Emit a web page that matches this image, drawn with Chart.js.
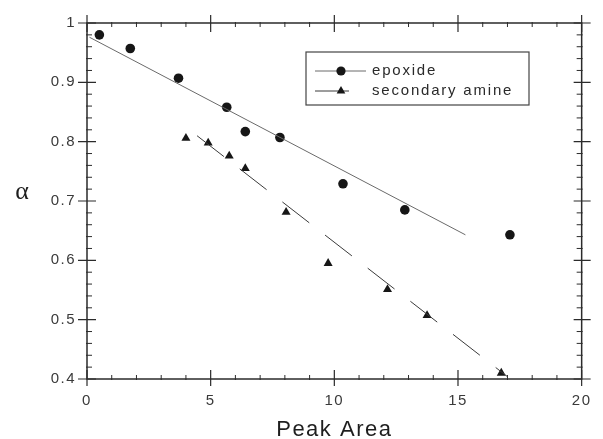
<!DOCTYPE html>
<html><head><meta charset="utf-8">
<script src="https://cdn.jsdelivr.net/npm/chart.js@4.4.0/dist/chart.umd.min.js"></script>
<style>html,body{margin:0;padding:0;background:#fff;}</style>
</head><body>
<canvas id="c" width="603" height="439"></canvas>
<script>
// ---- data ----
const epoxideX = [0.5, 1.75, 3.7, 5.65, 6.4, 7.8, 10.35, 12.85, 17.1];
const epoxideY = [0.980, 0.957, 0.907, 0.858, 0.817, 0.807, 0.729, 0.685, 0.643];
const amineX = [4.0, 4.9, 5.75, 6.4, 8.05, 9.75, 12.15, 13.75, 16.75];
const amineY = [0.806, 0.798, 0.776, 0.755, 0.681, 0.595, 0.551, 0.507, 0.410];
const epoxideFitX = [0.1, 15.3];
const epoxideFitY = [0.976, 0.643];
const amineFitX = [4.45, 17.0];
const amineFitY = [0.810, 0.404];
const seriesLabels = ['epoxide', 'secondary amine'];
const xMajorTicks = [0, 5, 10, 15, 20];
const xTickLabels = ['0', '5', '10', '15', '20'];
const yMajorTicks = [0.4, 0.5, 0.6, 0.7, 0.8, 0.9, 1];
const yTickLabels = ['0.4', '0.5', '0.6', '0.7', '0.8', '0.9', '1'];
const xMinorStep = 1;
const yMinorStep = 0.02;
const xTitle = 'Peak Area';
const yTitle = 'α';

const toPts = (xs, ys) => xs.map((v, i) => ({x: v, y: ys[i]}));
const INK = '#161616';
const FONT = "'Liberation Sans', Arial, sans-serif";

const framePlugin = {
  id: 'frame',
  beforeDraw(chart) { chart.ctx.letterSpacing = '1.5px'; },
  beforeDatasetsDraw(chart) {
    const {ctx, chartArea: a, scales: {x, y}} = chart;
    ctx.save();
    ctx.strokeStyle = '#2b2b2b';
    ctx.lineWidth = 1.5;
    ctx.strokeRect(a.left, a.top, a.right - a.left, a.bottom - a.top);
    ctx.lineWidth = 1.2;
    ctx.beginPath();
    xMajorTicks.forEach(v => {
      const p = x.getPixelForValue(v);
      ctx.moveTo(p, a.bottom - 9); ctx.lineTo(p, a.bottom + 7);
      ctx.moveTo(p, a.top - 8); ctx.lineTo(p, a.top + 9);
    });
    yMajorTicks.forEach(v => {
      const p = y.getPixelForValue(v);
      ctx.moveTo(a.left - 9, p); ctx.lineTo(a.left + 9, p);
      ctx.moveTo(a.right - 8, p); ctx.lineTo(a.right + 9, p);
    });
    ctx.stroke();
    ctx.lineWidth = 1;
    ctx.beginPath();
    for (let v = x.min + xMinorStep; v < x.max - 1e-9; v += xMinorStep) {
      if (xMajorTicks.some(m => Math.abs(m - v) < 1e-6)) continue;
      const p = x.getPixelForValue(v);
      ctx.moveTo(p, a.bottom - 4); ctx.lineTo(p, a.bottom + 1);
      ctx.moveTo(p, a.top - 1); ctx.lineTo(p, a.top + 4);
    }
    for (let v = y.min + yMinorStep; v < y.max - 1e-9; v += yMinorStep) {
      if (yMajorTicks.some(m => Math.abs(m - v) < 1e-6)) continue;
      const p = y.getPixelForValue(v);
      ctx.moveTo(a.left - 1, p); ctx.lineTo(a.left + 5, p);
      ctx.moveTo(a.right - 5, p); ctx.lineTo(a.right + 1, p);
    }
    ctx.stroke();
    ctx.restore();
  },
  afterDraw(chart) {
    const {ctx, chartArea: a} = chart;
    ctx.save();
    // axis titles
    ctx.fillStyle = '#1e1e1e';
    ctx.letterSpacing = '1.5px';
    ctx.font = "22px " + FONT;
    ctx.textAlign = 'center';
    ctx.textBaseline = 'alphabetic';
    ctx.fillText(xTitle, (a.left + a.right) / 2, 436);
    ctx.letterSpacing = '0px';
    ctx.font = "26px 'Liberation Serif', serif";
    ctx.fillText(yTitle, 22, 199);
    // legend
    const bx = 306, by = 52, bw = 223, bh = 53;
    ctx.fillStyle = '#fff';
    ctx.fillRect(bx, by, bw, bh);
    ctx.strokeStyle = '#444';
    ctx.lineWidth = 1.2;
    ctx.strokeRect(bx, by, bw, bh);
    const rows = [71, 91];
    chart.data.datasets.filter(d => !d.isFit).forEach((ds, i) => {
      const fit = chart.data.datasets.find(d => d.isFit && d.fitOf === ds.label);
      const yy = rows[i];
      ctx.strokeStyle = fit.borderColor;
      ctx.lineWidth = 1;
      ctx.setLineDash(fit.borderDash || []);
      ctx.beginPath(); ctx.moveTo(315, yy); ctx.lineTo(366, yy); ctx.stroke();
      ctx.setLineDash([]);
      ctx.fillStyle = INK;
      if (ds.pointStyle === 'triangle') {
        const r = 5;
        ctx.beginPath();
        ctx.moveTo(341, yy - r);
        ctx.lineTo(341 + r * 0.866, yy + r * 0.5);
        ctx.lineTo(341 - r * 0.866, yy + r * 0.5);
        ctx.closePath(); ctx.fill();
      } else {
        ctx.beginPath(); ctx.arc(341, yy, 4.6, 0, Math.PI * 2); ctx.fill();
      }
      ctx.fillStyle = '#2a2a2a';
      ctx.font = "15px " + FONT;
      ctx.textAlign = 'left';
      ctx.textBaseline = 'middle';
      ctx.letterSpacing = '1.8px';
      ctx.fillText(ds.label, 372, yy);
    });
    ctx.restore();
  }
};

new Chart(document.getElementById('c'), {
  type: 'scatter',
  data: {
    datasets: [
      {label: 'epoxide fit', isFit: true, fitOf: seriesLabels[0], data: toPts(epoxideFitX, epoxideFitY),
       showLine: true, pointRadius: 0, borderColor: '#6a6a6a', borderWidth: 1, clip: false},
      {label: 'amine fit', isFit: true, fitOf: seriesLabels[1], data: toPts(amineFitX, amineFitY),
       showLine: true, pointRadius: 0, borderColor: '#3a3a3a', borderWidth: 1, borderDash: [34, 20], clip: false},
      {label: seriesLabels[0], data: toPts(epoxideX, epoxideY), pointStyle: 'circle', pointRadius: 4.8,
       backgroundColor: INK, borderColor: INK, borderWidth: 0, clip: false},
      {label: seriesLabels[1], data: toPts(amineX, amineY), pointStyle: 'triangle', pointRadius: 5.2,
       backgroundColor: INK, borderColor: INK, borderWidth: 0, clip: false}
    ]
  },
  options: {
    responsive: false,
    animation: false,
    devicePixelRatio: 1,
    layout: {padding: {top: 23, right: 16, left: 0, bottom: 0}},
    plugins: {legend: {display: false}, tooltip: {enabled: false}},
    scales: {
      x: {
        type: 'linear', min: 0, max: 20,
        afterBuildTicks: s => { s.ticks = xMajorTicks.map(v => ({value: v})); },
        afterFit: s => { s.height = 60; },
        grid: {display: false, drawTicks: false},
        border: {display: false},
        ticks: {padding: 13, color: '#3a3a3a', font: {family: FONT, size: 15},
                maxRotation: 0, callback: (v, i) => xTickLabels[i]}
      },
      y: {
        type: 'linear', min: 0.4, max: 1,
        afterBuildTicks: s => { s.ticks = yMajorTicks.map(v => ({value: v})); },
        afterFit: s => { s.width = 87; },
        grid: {display: false, drawTicks: false},
        border: {display: false},
        ticks: {padding: 11, color: '#3a3a3a', font: {family: FONT, size: 15},
                callback: (v, i) => yTickLabels[i]}
      }
    }
  },
  plugins: [framePlugin]
});
</script>
</body></html>
